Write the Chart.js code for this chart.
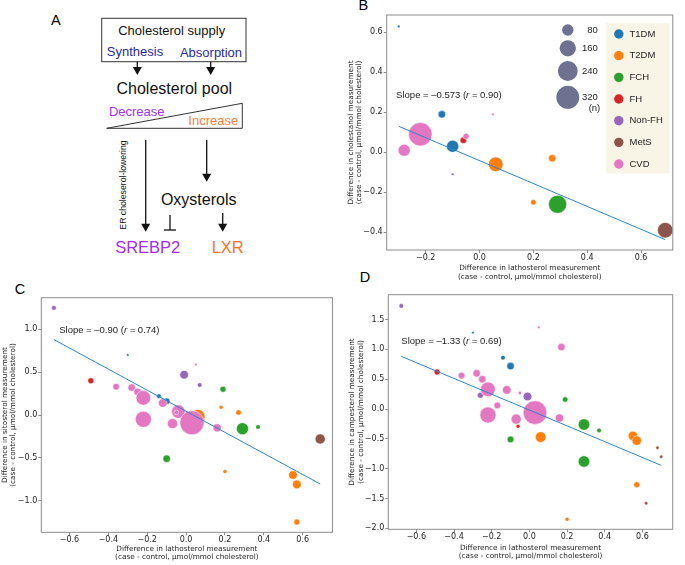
<!DOCTYPE html>
<html>
<head>
<meta charset="utf-8">
<script src="https://cdn.jsdelivr.net/npm/chart.js@4.4.0/dist/chart.umd.min.js"></script>
<style>
  body { margin: 0; background: #fff; }
  #fig { position: relative; width: 685px; height: 565px; overflow: hidden; }
  #fig canvas, #fig svg { position: absolute; }
</style>
</head>
<body>
<div id="fig">
  <svg width="685" height="565" style="left:0;top:0" font-family="'Liberation Sans', Arial, sans-serif" text-anchor="middle" dominant-baseline="central">
    <!-- panel letters -->
    <text x="55.8" y="20" font-size="14.5">A</text>
    <text x="363.3" y="4.5" font-size="14.5">B</text>
    <text x="20" y="288.7" font-size="14.5">C</text>
    <text x="365" y="276.7" font-size="14.5">D</text>

    <!-- panel A diagram -->
    <rect x="101.7" y="18.3" width="144.3" height="43.4" fill="none" stroke="#333" stroke-width="1"/>
    <text x="171.7" y="30.7" font-size="13" fill="#111">Cholesterol supply</text>
    <text x="135" y="51" font-size="13" fill="#2a2a9e">Synthesis</text>
    <text x="211" y="52.3" font-size="13" fill="#2a2a9e">Absorption</text>
    <g stroke="#111" stroke-width="1.3" fill="#111">
      <line x1="137.3" y1="61.7" x2="137.3" y2="68"/>
      <polygon points="132.8,67 141.8,67 137.3,75" stroke="none"/>
      <line x1="210.7" y1="61.7" x2="210.7" y2="68"/>
      <polygon points="206.2,67 215.2,67 210.7,75" stroke="none"/>
      <line x1="145.7" y1="140" x2="145.7" y2="225"/>
      <polygon points="141.2,223.7 150.2,223.7 145.7,231.7" stroke="none"/>
      <line x1="206.7" y1="140" x2="206.7" y2="175"/>
      <polygon points="202.2,173.7 211.2,173.7 206.7,181.7" stroke="none"/>
      <line x1="222.7" y1="213" x2="222.7" y2="225"/>
      <polygon points="218.2,223.7 227.2,223.7 222.7,231.7" stroke="none"/>
      <line x1="170" y1="215" x2="170" y2="230"/>
      <line x1="164" y1="230" x2="176" y2="230"/>
    </g>
    <text x="174.3" y="88.3" font-size="16" fill="#111">Cholesterol pool</text>
    <polygon points="106.7,128.3 242.3,103.3 242.3,128.3" fill="none" stroke="#333" stroke-width="1"/>
    <text x="136.7" y="111.7" font-size="13" fill="#a431f2">Decrease</text>
    <text x="213.3" y="120.7" font-size="13" fill="#f9803a">Increase</text>
    <text transform="translate(123.3,185) rotate(-90)" font-size="8.7" fill="#111">ER choleserol-lowering</text>
    <text x="198.7" y="199" font-size="16" fill="#111">Oxysterols</text>
    <text x="147.7" y="246.7" font-size="16.5" fill="#a52af5">SREBP2</text>
    <text x="227.7" y="246.7" font-size="16.5" fill="#ff6f1f">LXR</text>
  </svg>
  <canvas id="chartB" width="345" height="285" style="left:340px;top:0px"></canvas>
  <canvas id="chartC" width="345" height="285" style="left:0px;top:280px"></canvas>
  <canvas id="chartD" width="345" height="285" style="left:340px;top:280px"></canvas>
</div>
<script>
// groups shared by all three scatter panels
const groups = ['T1DM', 'T2DM', 'FCH', 'FH', 'Non-FH', 'MetS', 'CVD'];
const groupColors = ['#1f77b4', '#ff7f0e', '#2ca02c', '#d62728', '#9467bd', '#8c564b', '#e377c2'];
const sizeLegend = [80, 160, 240, 320];

// B: lathosterol vs cholestanol (case - control)
const bLathosterol = [-0.30, -0.14, -0.10, 0.06, 0.27, 0.20, 0.29, -0.06, -0.10, 0.69, -0.22, -0.28, -0.05, 0.05];
const bCholestanol = [0.63, 0.19, 0.03, -0.06, -0.03, -0.25, -0.26, 0.06, -0.11, -0.39, 0.09, 0.01, 0.08, 0.19];
const bN = [4, 34, 90, 130, 34, 18, 200, 27, 4, 146, 335, 88, 22, 4];
const bGroup = ['T1DM', 'T1DM', 'T1DM', 'T2DM', 'T2DM', 'T2DM', 'FCH', 'FH', 'Non-FH', 'MetS', 'CVD', 'CVD', 'CVD', 'CVD'];
const bFitX = [-0.30, 0.69];
const bFitY = [0.13, -0.437];
const bTicksX = [-0.2, 0, 0.2, 0.4, 0.6];
const bTicksY = [-0.4, -0.2, 0, 0.2, 0.4, 0.6];

// C: lathosterol vs sitosterol
const cLathosterol = [-0.68, -0.01, 0.07, -0.30, -0.14, -0.10, -0.49,
  0.05, -0.36, -0.28, -0.25, -0.22, -0.12, -0.22, -0.04, -0.05, 0.03, -0.07, 0.16,
  0.06, 0.18, 0.27, 0.20, 0.55, 0.57, 0.57, 0.29, 0.37, 0.19, -0.10, 0.69];
const cSitosterol = [1.25, 0.47, 0.35, 0.70, 0.22, 0.16, 0.40,
  0.59, 0.33, 0.32, 0.27, 0.20, 0.14, -0.05, 0.04, 0.03, -0.09, -0.10, -0.15,
  -0.02, 0.09, 0.03, -0.66, -0.70, -0.81, -1.25, -0.16, -0.14, 0.30, -0.51, -0.28];
const cN = [13, 46, 13, 4, 13, 27, 22,
  4, 27, 34, 34, 131, 46, 158, 110, 14, 355, 62, 40,
  130, 10, 18, 10, 46, 46, 22, 89, 13, 22, 34, 62];
const cGroup = ['Non-FH', 'Non-FH', 'Non-FH', 'T1DM', 'T1DM', 'T1DM', 'FH',
  'CVD', 'CVD', 'CVD', 'CVD', 'CVD', 'CVD', 'CVD', 'CVD', 'CVD', 'CVD', 'CVD', 'CVD',
  'T2DM', 'T2DM', 'T2DM', 'T2DM', 'T2DM', 'T2DM', 'T2DM', 'FCH', 'FCH', 'FCH', 'FCH', 'MetS'];
const cFitX = [-0.68, 0.69];
const cFitY = [0.88, -0.805];
const cTicksX = [-0.6, -0.4, -0.2, 0, 0.2, 0.4, 0.6];
const cTicksY = [-1.0, -0.5, 0, 0.5, 1.0];

// D: lathosterol vs campesterol
const dLathosterol = [-0.68, -0.26, -0.01, -0.30, -0.14, -0.10, -0.49, -0.06,
  0.05, 0.17, -0.36, -0.28, -0.25, -0.22, -0.12, -0.05, -0.17, -0.22, 0.03, -0.07, 0.16,
  0.19, 0.29, 0.37, -0.10, 0.29, 0.06, 0.55, 0.57, 0.57, 0.20, 0.68, 0.70, 0.62];
const dCampesterol = [1.73, 0.23, 0.21, 1.28, 0.86, 0.72, 0.62, -0.29,
  1.37, 1.04, 0.56, 0.60, 0.50, 0.33, 0.32, 0.27, 0.06, -0.10, -0.06, -0.17, -0.15,
  0.16, -0.26, -0.36, -0.51, -0.88, -0.47, -0.45, -0.53, -1.27, -1.85, -0.65, -0.80, -1.58];
const dN = [13, 22, 46, 4, 13, 34, 22, 10,
  4, 34, 27, 34, 34, 131, 46, 7, 27, 158, 340, 62, 40,
  18, 80, 13, 27, 80, 70, 54, 54, 22, 10, 7, 7, 7];
const dGroup = ['Non-FH', 'Non-FH', 'Non-FH', 'T1DM', 'T1DM', 'T1DM', 'FH', 'FH',
  'CVD', 'CVD', 'CVD', 'CVD', 'CVD', 'CVD', 'CVD', 'CVD', 'CVD', 'CVD', 'CVD', 'CVD', 'CVD',
  'FCH', 'FCH', 'FCH', 'FCH', 'FCH', 'T2DM', 'T2DM', 'T2DM', 'T2DM', 'T2DM', 'MetS', 'MetS', 'MetS'];
const dFitX = [-0.68, 0.70];
const dFitY = [0.884, -0.945];
const dTicksX = [-0.6, -0.4, -0.2, 0, 0.2, 0.4, 0.6];
const dTicksY = [-2.0, -1.5, -1.0, -0.5, 0, 0.5, 1.0, 1.5];

const xTitle = ['Difference in lathosterol measurement', '(case - control, \u03bcmol/mmol cholesterol)'];

// marker radius (px) from sample size, area proportional to n
function sizeOf(n) { return 0.64 * Math.sqrt(n); }

function fmt(v) {
  return (v < 0 ? '\u2212' : '') + Math.abs(v).toFixed(1);
}

function bubbleSets(xs, ys, ns, gs) {
  return groups.map((g, i) => {
    const idx = xs.map((_, k) => k).filter(k => gs[k] === g);
    return {
      label: g,
      data: idx.map(k => ({ x: xs[k], y: ys[k] })),
      pointRadius: idx.map(k => sizeOf(ns[k])),
      backgroundColor: groupColors[i],
      borderColor: '#ffffff',
      borderWidth: 0.5,
      order: groups.length - i
    };
  });
}

// frame, slope note and (panel B) legends
const extras = {
  id: 'extras',
  afterDraw(chart, args, o) {
    const ctx = chart.ctx;
    const a = chart.chartArea;
    ctx.save();
    ctx.strokeStyle = '#8c8c8c';
    ctx.lineWidth = 1;
    ctx.strokeRect(a.left, a.top, a.right - a.left, a.bottom - a.top);

    // slope note
    let sx = chart.scales.x.getPixelForValue(o.noteX);
    const sy = chart.scales.y.getPixelForValue(o.noteY);
    ctx.fillStyle = '#222';
    ctx.textBaseline = 'middle';
    ctx.textAlign = 'left';
    [['Slope = ' + o.slope + ' (', ''], ['r', 'italic '], [' = ' + o.r + ')', '']].forEach(p => {
      ctx.font = p[1] + '9.5px "Liberation Sans", Arial, sans-serif';
      ctx.fillText(p[0], sx, sy);
      sx += ctx.measureText(p[0]).width;
    });

    if (o.legend) {
      ctx.font = '9.5px "Liberation Sans", Arial, sans-serif';
      // size legend
      const sizeY = [15, 33.3, 56, 82.3];
      sizeLegend.forEach((n, i) => {
        ctx.fillStyle = '#6e7190';
        ctx.beginPath();
        ctx.arc(a.right - 105, a.top + sizeY[i], sizeOf(n), 0, Math.PI * 2);
        ctx.fill();
        ctx.fillStyle = '#222';
        ctx.textAlign = 'right';
        ctx.fillText(String(n), a.right - 75, a.top + sizeY[i]);
      });
      ctx.fillText('(n)', a.right - 72.5, a.top + 93.3);

      // group legend
      const bx = a.right - 66.6, by = a.top + 8.3;
      ctx.fillStyle = '#f8f4e6';
      ctx.fillRect(bx, by, 63.3, 150);
      ctx.textAlign = 'left';
      groups.forEach((g, i) => {
        const yy = by + 10.7 + i * 21.67;
        ctx.fillStyle = groupColors[i];
        ctx.beginPath();
        ctx.arc(bx + 12.6, yy, 4.7, 0, Math.PI * 2);
        ctx.fill();
        ctx.fillStyle = '#222';
        ctx.fillText(g, bx + 23.3, yy);
      });
    }
    ctx.restore();
  }
};

function makePanel(id, p) {
  const datasets = bubbleSets(p.xs, p.ys, p.ns, p.gs);
  datasets.push({
    label: 'fit',
    data: p.fitX.map((x, i) => ({ x: x, y: p.fitY[i] })),
    showLine: true,
    pointRadius: 0,
    borderColor: '#2f84c6',
    borderWidth: 1,
    order: 0
  });
  const tickFont = { family: "'DejaVu Sans', sans-serif", size: 8 };
  const titleFont = { family: "'DejaVu Sans', sans-serif", size: 7.3, lineHeight: 1.15 };
  return new Chart(document.getElementById(id), {
    type: 'scatter',
    data: { datasets: datasets },
    options: {
      responsive: false,
      animation: false,
      devicePixelRatio: 1,
      events: [],
      layout: { padding: { left: 0, top: p.padTop, right: p.padRight, bottom: 0 } },
      plugins: {
        legend: { display: false },
        tooltip: { enabled: false },
        extras: p.note
      },
      scales: {
        x: {
          type: 'linear', min: p.xMin, max: p.xMax,
          afterBuildTicks: s => { s.ticks = p.ticksX.map(v => ({ value: v })); },
          afterFit: s => { s.height = p.xAxisH; },
          ticks: { callback: fmt, font: tickFont, color: '#222', padding: 0, maxRotation: 0, autoSkip: false },
          grid: { drawOnChartArea: false, drawTicks: true, tickLength: 3, color: '#8c8c8c' },
          border: { display: false },
          title: { display: true, text: xTitle, font: titleFont, color: '#222', padding: { top: 0, bottom: p.xTitlePad } }
        },
        y: {
          type: 'linear', min: p.yMin, max: p.yMax,
          afterBuildTicks: s => { s.ticks = p.ticksY.map(v => ({ value: v })); },
          afterFit: s => { s.width = p.yAxisW; },
          ticks: { callback: fmt, font: tickFont, color: '#222', padding: 1, autoSkip: false },
          grid: { drawOnChartArea: false, drawTicks: true, tickLength: 3, color: '#8c8c8c' },
          border: { display: false },
          title: { display: true, text: p.yTitle, font: titleFont, color: '#222', padding: { top: p.yTitlePad, bottom: 0 } }
        }
      }
    },
    plugins: [extras]
  });
}

makePanel('chartB', {
  xs: bLathosterol, ys: bCholestanol, ns: bN, gs: bGroup, fitX: bFitX, fitY: bFitY,
  ticksX: bTicksX, ticksY: bTicksY,
  xMin: -0.345, xMax: 0.718, yMin: -0.489, yMax: 0.687,
  padTop: 15, padRight: 6.7, xAxisH: 35, yAxisW: 46.7, xTitlePad: 4.1, yTitlePad: 6.5,
  yTitle: ['Difference in cholestanol measurement', '(case - control, \u03bcmol/mmol cholesterol)'],
  note: { noteX: -0.31, noteY: 0.283, slope: '\u20130.573', r: '0.90', legend: true }
});

makePanel('chartC', {
  xs: cLathosterol, ys: cSitosterol, ns: cN, gs: cGroup, fitX: cFitX, fitY: cFitY,
  ticksX: cTicksX, ticksY: cTicksY,
  xMin: -0.745, xMax: 0.753, yMin: -1.369, yMax: 1.369,
  padTop: 17.7, padRight: 9.3, xAxisH: 32.7, yAxisW: 41.3, xTitlePad: 3.5, yTitlePad: 0.8,
  yTitle: ['Difference in sitosterol measurement', '(case - control, \u03bcmol/mmol cholesterol)'],
  note: { noteX: -0.653, noteY: 0.99, slope: '\u20130.90', r: '0.74', legend: false }
});

makePanel('chartD', {
  xs: dLathosterol, ys: dCampesterol, ns: dN, gs: dGroup, fitX: dFitX, fitY: dFitY,
  ticksX: dTicksX, ticksY: dTicksY,
  xMin: -0.749, xMax: 0.761, yMin: -2.018, yMax: 1.918,
  padTop: 14.7, padRight: 2.3, xAxisH: 35.7, yAxisW: 48.3, xTitlePad: 4.8, yTitlePad: 8.1,
  yTitle: ['Difference in campesterol measurement', '(case - control, \u03bcmol/mmol cholesterol)'],
  note: { noteX: -0.68, noteY: 1.14, slope: '\u20131.33', r: '0.69', legend: false }
});
</script>
</body>
</html>
